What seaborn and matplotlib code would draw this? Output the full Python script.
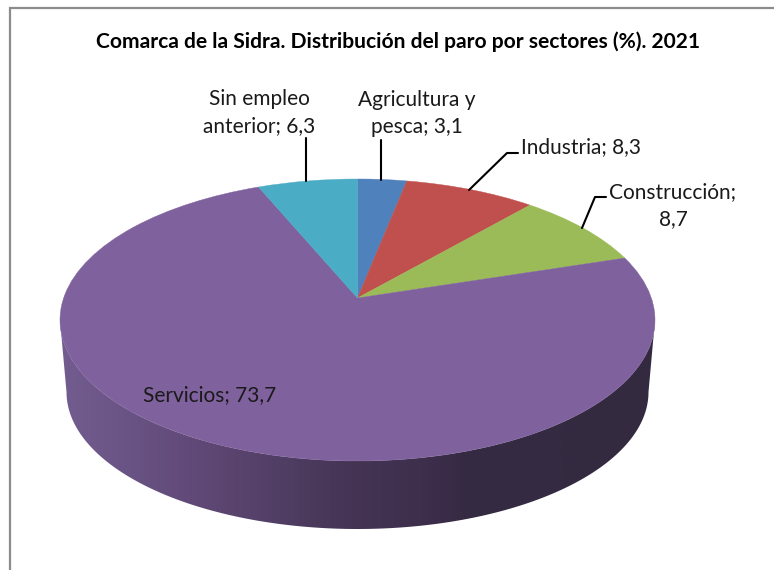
import numpy as np
import matplotlib
matplotlib.use('Agg')
import matplotlib.pyplot as plt
import seaborn as sns
from matplotlib.colors import LinearSegmentedColormap
from matplotlib.patches import Polygon
from matplotlib.transforms import Affine2D, Transform

title = 'Comarca de la Sidra. Distribución del paro por sectores (%). 2021'
sectors = ['Agricultura y pesca', 'Industria', 'Construcción', 'Servicios', 'Sin empleo anterior']
values = [3.1, 8.3, 8.7, 73.7, 6.3]
colors = ['#4F81BD', '#C0504D', '#9BBB59', '#7F619E', '#4BACC6']
wall_stops = [0.0, 0.12, 0.24, 0.37, 0.49, 0.61, 0.69, 1.0]
wall_colors = ['#735C8F', '#695384', '#5F4875', '#513E64', '#453454', '#3E2F4D', '#352A42', '#332A40']


class TiltTransform(Transform):
    # moves the centre of the unit circle up, the rim stays on the circle (perspective look)
    input_dims = 2
    output_dims = 2

    def __init__(self, t):
        super().__init__()
        self.t = t

    def transform_non_affine(self, xy):
        xy = np.asarray(xy)
        d = 1 + self.t * xy[:, 1]
        return np.column_stack((xy[:, 0] * np.sqrt(1 - self.t ** 2) / d, (xy[:, 1] + self.t) / d))


sns.set_theme(style='white')
plt.rcParams['font.family'] = ['Lato', 'DejaVu Sans']

fig = plt.figure(figsize=(7.74, 5.7), dpi=100)
ax = fig.add_axes([0, 0, 1, 1])

# pie top, values go clockwise from 12 o'clock
wedges, _ = ax.pie(values, colors=sns.color_palette(colors), startangle=90, counterclock=False,
                   wedgeprops={'linewidth': 0.3})
ax.set_aspect('auto')
for w, c in zip(wedges, colors):
    w.set_edgecolor(c)
    w.set_zorder(3)
    w.set_transform(TiltTransform(0.156) + Affine2D().scale(297.5, -141).translate(357.5, 320) + ax.transData)

# side wall
a = np.linspace(np.pi, 0, 200)
top_rim = np.column_stack((357.5 + 297.5 * np.cos(a), 320 + 141 * np.sin(a)))
low_rim = np.column_stack((357.5 + 291 * np.cos(a), 392 + 137 * np.sin(a)))
wall = Polygon(np.vstack((top_rim, low_rim[::-1])), closed=True, facecolor='none', edgecolor='none',
               transform=ax.transData)
ax.add_patch(wall)
cmap = LinearSegmentedColormap.from_list('wall', list(zip(wall_stops, wall_colors)))
img = ax.imshow(np.linspace(0, 1, 256).reshape(1, -1), cmap=cmap, aspect='auto', extent=(60, 655, 535, 300), zorder=2)
img.set_clip_path(wall)

# chart frame, only left and top show in the picture
ax.plot([9.5, 9.5, 774], [570, 8, 8], color='#8C8C8C', lw=1.6, zorder=1, solid_joinstyle='miter')

# leader lines
ax.plot([306, 306], [138, 181], color='black', lw=1.5, zorder=4)
ax.plot([381, 381], [140, 180], color='black', lw=1.5, zorder=4)
ax.plot([518, 507, 469], [153, 153, 190], color='black', lw=1.5, zorder=4)
ax.plot([606, 595, 582], [197, 197, 228], color='black', lw=1.5, zorder=4)

text_col = '#1A1A1A'
ax.text(398, 41.5, title, fontsize=15.1, fontweight='bold', color='black', ha='center', va='center', zorder=5)
ax.text(259, 112.5, f'Sin empleo\nanterior; {values[4]}'.replace('.', ','), fontsize=15, color=text_col,
        ha='center', va='center', linespacing=1.42, zorder=5)
ax.text(417, 113.5, f'Agricultura y\npesca; {values[0]}'.replace('.', ','), fontsize=15, color=text_col,
        ha='center', va='center', linespacing=1.42, zorder=5)
ax.text(521, 147, f'{sectors[1]}; {values[1]}'.replace('.', ','), fontsize=15, color=text_col,
        ha='left', va='center', zorder=5)
ax.text(673, 205.5, f'{sectors[2]};\n{values[2]}'.replace('.', ','), fontsize=15, color=text_col,
        ha='center', va='center', linespacing=1.42, zorder=5)
ax.text(209.5, 395, f'{sectors[3]}; {values[3]}'.replace('.', ','), fontsize=15, color=text_col,
        ha='center', va='center', zorder=5)

ax.set_xlim(0, 774)
ax.set_ylim(570, 0)
ax.axis('off')
fig.savefig('out.png', dpi=100, facecolor='white')
